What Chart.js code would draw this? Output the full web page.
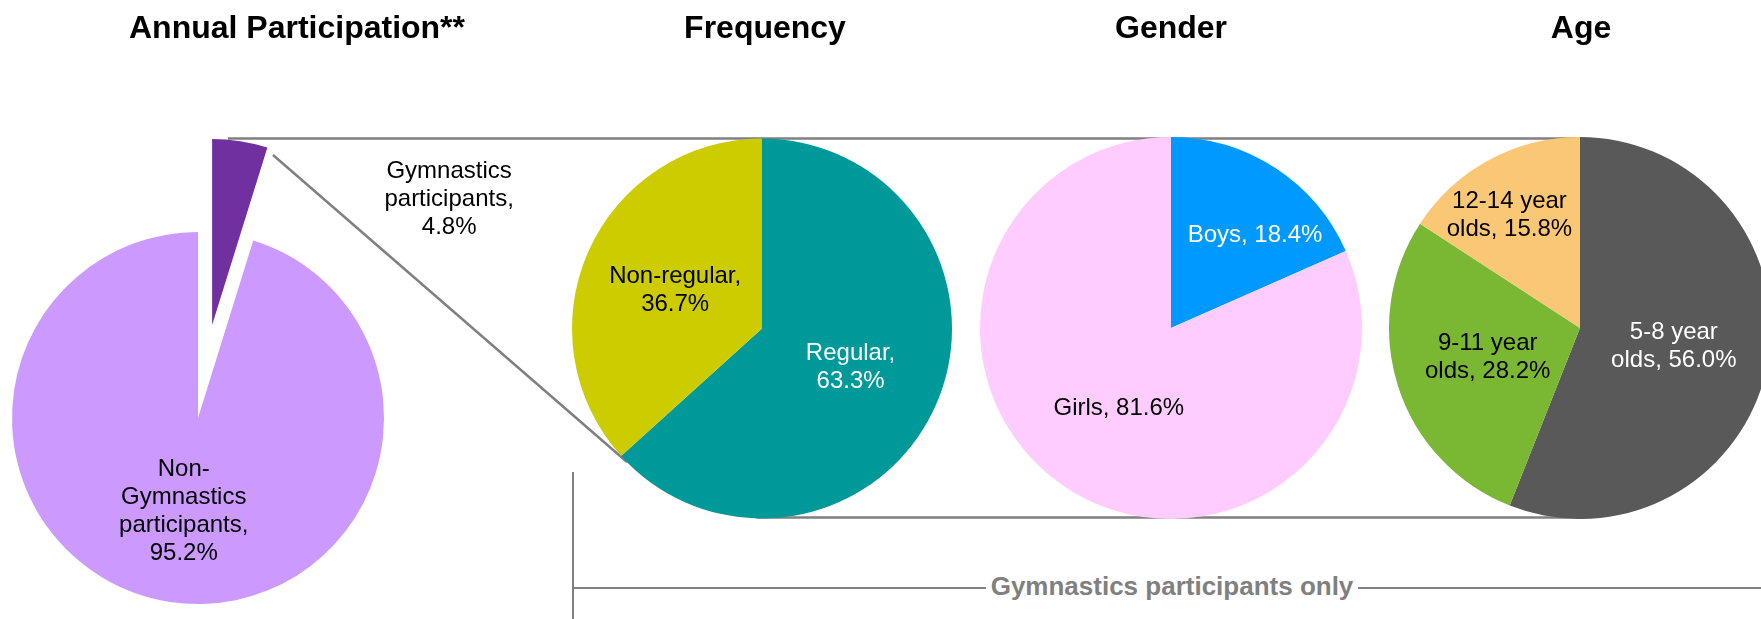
<!DOCTYPE html>
<html>
<head>
<meta charset="utf-8">
<title>Gymnastics participation</title>
<script src="https://cdn.jsdelivr.net/npm/chart.js@4.4.1/dist/chart.umd.min.js"></script>
<style>
  html, body { margin: 0; padding: 0; background: #ffffff; }
  body { position: relative; width: 1761px; height: 619px; overflow: hidden;
         font-family: "Liberation Sans", Arial, sans-serif; }
  .box { position: absolute; }
  #connectors { position: absolute; left: 0; top: 0; }
  .title { position: absolute; top: 11px; width: 400px; text-align: center;
           font-weight: bold; font-size: 32px; line-height: 32px; color: #000000; white-space: nowrap; }
  #bracketLabel { position: absolute; top: 573px; left: 972px; width: 400px; text-align: center;
                  font-weight: bold; font-size: 26px; line-height: 26px; color: #808080; white-space: nowrap; }
  #bracketLabel span { background: #ffffff; padding: 0 5px; }
</style>
</head>
<body>

<canvas id="connectors" width="1761" height="619"></canvas>

<div class="box" style="left:-132px; top:118px; width:660px; height:600px;"><canvas id="annualChart"></canvas></div>
<div class="box" style="left:562px; top:128px; width:400px; height:401px;"><canvas id="frequencyChart"></canvas></div>
<div class="box" style="left:971px; top:128px; width:400px; height:400px;"><canvas id="genderChart"></canvas></div>
<div class="box" style="left:1380px; top:128px; width:400px; height:400px;"><canvas id="ageChart"></canvas></div>

<div class="title" style="left:97px;">Annual Participation**</div>
<div class="title" style="left:565px;">Frequency</div>
<div class="title" style="left:971px;">Gender</div>
<div class="title" style="left:1381px;">Age</div>
<div id="bracketLabel"><span>Gymnastics participants only</span></div>

<script>
(function () {

// -------------------------------------------------------------------------------------------------------
// data

var annualLabels = ["Gymnastics participants", "Non-Gymnastics participants"];
var annualValues = [4.8, 95.2];

var frequencyLabels = ["Regular", "Non-regular"];
var frequencyValues = [63.3, 36.7];

var genderLabels = ["Boys", "Girls"];
var genderValues = [18.4, 81.6];

var ageLabels = ["5-8 year olds", "9-11 year olds", "12-14 year olds"];
var ageValues = [56.0, 28.2, 15.8];

// -------------------------------------------------------------------------------------------------------

var LABEL_FONT = '24px "Liberation Sans", Arial, sans-serif';
var LINE_H = 28;

function wrapText(ctx, text, maxW) {
    var tokens = text.split(/(?<=[-\s])/);
    var lines = [], cur = "";
    tokens.forEach(function (t) {
        var test = cur + t;
        if (cur && ctx.measureText(test.trim()).width > maxW) {
            lines.push(cur.trim());
            cur = t;
        } else {
            cur = test;
        }
    });
    if (cur.trim()) lines.push(cur.trim());
    return lines;
}

// pulls a slice away from the centre (exploded slice)
function explodePlugin(style) {
    return {
        id: 'explode',
        afterDatasetUpdate: function (chart, args) {
            if (!style.explode) return;
            args.meta.data.forEach(function (arc, i) {
                var d = style.explode[i] || 0;
                if (!d) return;
                var mid = (arc.startAngle + arc.endAngle) / 2;
                arc.x += Math.cos(mid) * d;
                arc.y += Math.sin(mid) * d;
            });
        }
    };
}

// "Category, 12.3%" labels
function sliceLabelPlugin(style) {
    return {
        id: 'sliceLabels',
        afterDatasetsDraw: function (chart) {
            var ctx = chart.ctx, area = chart.chartArea;
            var cx = (area.left + area.right) / 2, cy = (area.top + area.bottom) / 2;
            var meta = chart.getDatasetMeta(0);
            var values = chart.data.datasets[0].data;
            ctx.save();
            ctx.font = LABEL_FONT;
            ctx.textAlign = "center";
            ctx.textBaseline = "middle";
            meta.data.forEach(function (arc, i) {
                var text = chart.data.labels[i] + ", " + values[i].toFixed(1) + "%";
                var lines = wrapText(ctx, text, style.wrap);
                var ang = (style.labelAngle && style.labelAngle[i] != null)
                    ? style.labelAngle[i] * Math.PI / 180 - Math.PI / 2
                    : (arc.startAngle + arc.endAngle) / 2;
                var frac = (style.labelRadius && style.labelRadius[i] != null) ? style.labelRadius[i] : 0.5;
                var r = arc.outerRadius * frac;
                var x = cx + Math.cos(ang) * r;
                var y0 = cy + Math.sin(ang) * r - (lines.length - 1) * LINE_H / 2;
                ctx.fillStyle = style.labelColors[i];
                lines.forEach(function (ln, k) { ctx.fillText(ln, x, y0 + k * LINE_H); });
            });
            ctx.restore();
        }
    };
}

window.pie_chart = function (canvasId, labels, dataArr, style) {
    try {
        var canvas = document.getElementById(canvasId);
        if (!canvas) return;
        var ctx = canvas.getContext("2d");

        return new Chart(ctx, {
            type: 'pie',
            data: {
                labels: labels,
                datasets: [{
                    data: dataArr,
                    backgroundColor: style.colors,
                    borderWidth: 0,
                    radius: style.radius
                }]
            },
            options: {
                responsive: true,
                maintainAspectRatio: false,
                animation: false,
                events: [],
                layout: { padding: 0 },
                plugins: {
                    legend: { display: false },
                    tooltip: { enabled: false }
                }
            },
            plugins: [explodePlugin(style), sliceLabelPlugin(style)]
        });
    } catch (e) {
        console.log("Error in pie_chart: " + e);
    }
};

// -------------------------------------------------------------------------------------------------------
// connector lines (zoom-out from the gymnastics slice + bracket)

function drawConnectors() {
    var c = document.getElementById("connectors").getContext("2d");
    c.strokeStyle = "#808080";
    c.lineCap = "butt";

    c.lineWidth = 2.5;
    c.beginPath();
    c.moveTo(228, 138.5); c.lineTo(1580, 138.5);      // top
    c.moveTo(273, 155);   c.lineTo(627, 462);         // diagonal
    c.moveTo(757, 517.5); c.lineTo(1580, 517.5);      // bottom
    c.stroke();

    c.lineWidth = 2;
    c.beginPath();
    c.moveTo(573, 472); c.lineTo(573, 619);           // bracket vertical
    c.moveTo(573, 588); c.lineTo(1761, 588);          // bracket horizontal
    c.stroke();
}

drawConnectors();

pie_chart("annualChart", annualLabels, annualValues, {
    colors: ["#7030A0", "#CC99FF"],
    labelColors: ["#000000", "#000000"],
    radius: 186,
    explode: [94, 0],
    wrap: 132,
    labelRadius: [1.789, 0.51],
    labelAngle: [49, null]
});

pie_chart("frequencyChart", frequencyLabels, frequencyValues, {
    colors: ["#009999", "#CCCC00"],
    labelColors: ["#ffffff", "#000000"],
    radius: 190,
    wrap: 140,
    labelRadius: [0.51, 0.5]
});

pie_chart("genderChart", genderLabels, genderValues, {
    colors: ["#0099FF", "#FFCCFF"],
    labelColors: ["#ffffff", "#000000"],
    radius: 191,
    wrap: 150,
    labelRadius: [0.656, 0.5],
    labelAngle: [42.1, null]
});

pie_chart("ageChart", ageLabels, ageValues, {
    colors: ["#595959", "#7AB733", "#FAC775"],
    labelColors: ["#ffffff", "#000000", "#000000"],
    radius: 191,
    wrap: 135,
    labelRadius: [0.5, 0.507, 0.695],
    labelAngle: [null, null, 327.9]
});

// -------------------------------------------------------------------------------------------------------

})();
</script>
</body>
</html>
